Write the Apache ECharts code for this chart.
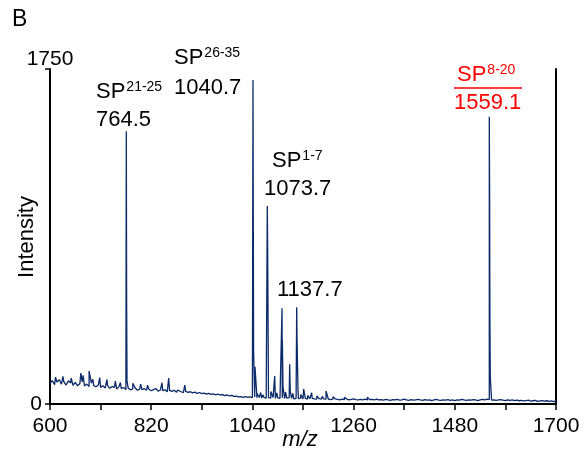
<!DOCTYPE html>
<html>
<head>
<meta charset="utf-8">
<script src="https://cdn.jsdelivr.net/npm/echarts@6/dist/echarts.min.js"></script>
<style>
  html, body { margin: 0; background: #fff; }
  #chart { width: 585px; height: 459px; }
</style>
</head>
<body>
<div id="chart"></div>
<script>
// baseline noise, one value every 5 m/z starting at 600
const MZ_START = 600
const MZ_STEP = 5
const baseline = [
  108, 122, 101, 115, 127, 104, 117, 99, 121, 110, 98, 113, 95, 107, 116, 94, 104, 91, 109, 96, 90,
  99, 87, 95, 84, 97, 82, 92, 86, 78, 91, 80, 86, 76, 83, 74, 79, 85, 72, 78, 75,
  80, 72, 77, 69, 75, 81, 67, 73, 70, 74, 64, 71, 66, 72, 62, 68, 64, 60, 66, 61,
  64, 58, 62, 55, 60, 54, 57, 52, 56, 50, 53, 48, 51, 47, 49, 44, 47, 42, 45, 40,
  41, 37, 39, 35, 38, 34, 37, 33, 36, 32, 35, 31, 34, 30, 33, 31, 34, 29, 32, 30,
  32, 28, 31, 33, 29, 27, 30, 28, 31, 27, 29, 26, 28, 30, 27, 25, 28, 26, 27, 25,
  26, 23, 25, 27, 24, 22, 25, 23, 26, 22, 24, 27, 23, 21, 24, 22, 25, 21, 23, 24,
  22, 25, 21, 23, 20, 24, 22, 19, 23, 21, 24, 20, 22, 25, 21, 19, 23, 20, 22, 24,
  21, 19, 23, 20, 22, 18, 21, 24, 20, 19, 22, 20, 23, 19, 21, 18, 22, 20, 24, 21,
  19, 22, 20, 23, 21, 18, 22, 24, 21, 25, 23, 20, 22, 19, 21, 23, 20, 18, 22, 19,
  21, 18, 20, 17, 19, 16, 18, 20, 15, 17, 19, 14, 16, 18, 15, 17, 14, 16, 13, 15,
]

// peaks (incl. isotope shoulders and small grass spikes)
const peakMz = [
  612, 628, 646, 667, 672, 685, 693, 708, 724, 742, 753,
  765.9, 766.6, 767.4,
  780, 797, 812, 832, 843.5, 858, 877.5, 893, 909,
  1041.3, 1042.0, 1042.6, 1045.6, 1050, 1058, 1063,
  1072.4, 1073.1, 1074.6, 1080, 1088.4, 1093,
  1104.4, 1105.1, 1106.5, 1112, 1121, 1122.2, 1128,
  1136.3, 1137.0, 1139, 1145, 1151.5, 1160, 1168.8, 1180, 1192, 1200,
  1215, 1240, 1290, 1330,
  1555.0, 1555.7, 1556.3, 1557.2,
]
const peakInt = [
  140, 145, 135, 162, 150, 172, 130, 138, 128, 120, 112,
  1425, 529, 120,
  108, 104, 98, 90, 111, 136, 73, 99, 70,
  1693, 909, 280, 195, 55, 60, 48,
  1034, 831, 204, 65, 146, 58,
  500, 334, 90, 62, 207, 70, 55,
  505, 345, 84, 50, 78, 45, 59, 42, 40, 68,
  38, 35, 36, 33,
  1500, 1092, 437, 136,
]

const xMin = 600
const xMax = 1700
const xTickStep = 110
const xLabelStep = 220
const yMax = 1750

const FONT = "'Liberation Sans', Arial, Helvetica, sans-serif"

const points = baseline.map((v, i) => [MZ_START + i * MZ_STEP, v])
peakMz.forEach((m, i) => points.push([m, peakInt[i]]))
points.sort((a, b) => a[0] - b[0])

const chart = echarts.init(document.getElementById('chart'))

const sp = (sup) => `{sp|SP}{sup|${sup}}`
const richSP = {
  sp: { fontSize: 22, fontFamily: FONT, lineHeight: 24 },
  sup: { fontSize: 14, fontFamily: FONT, verticalAlign: 'top', lineHeight: 24, padding: [0, 0, 0, 1] },
}
const txt = (x, y, text, color = '#000', extra = {}) => ({
  type: 'text',
  x, y,
  style: Object.assign({
    text, fill: color, fontSize: 22, fontFamily: FONT,
    verticalAlign: 'middle',
  }, extra),
})
const spTxt = (x, y, sup, color = '#000') => ({
  type: 'text',
  x, y,
  style: {
    text: sp(sup), fill: color, verticalAlign: 'middle',
    rich: {
      sp: Object.assign({ fill: color }, richSP.sp),
      sup: Object.assign({ fill: color }, richSP.sup),
    },
  },
})

chart.setOption({
  animation: false,
  backgroundColor: '#fff',
  grid: { left: 50, right: 29, top: 69, bottom: 55 },
  xAxis: {
    type: 'value',
    min: xMin,
    max: xMax,
    interval: xTickStep,
    axisLine: { lineStyle: { color: '#000', width: 2 } },
    axisTick: { length: 6, lineStyle: { color: '#000', width: 1.5 } },
    axisLabel: {
      color: '#000',
      fontSize: 21,
      fontFamily: FONT,
      margin: 12,
      formatter: (v) => ((v - xMin) % xLabelStep === 0 ? String(v) : ''),
    },
    splitLine: { show: false },
  },
  yAxis: [
    {
      type: 'value',
      min: 0,
      max: yMax,
      interval: yMax,
      axisLine: { show: true, lineStyle: { color: '#000', width: 2 } },
      axisTick: { show: true, length: 5, lineStyle: { color: '#000', width: 1.5 } },
      axisLabel: {
        color: '#000',
        fontSize: 21,
        fontFamily: FONT,
        margin: 8,
        formatter: (v) => (v === 0 ? '0' : ''),
      },
      splitLine: { show: false },
    },
    {
      type: 'value',
      min: 0,
      max: yMax,
      interval: yMax,
      position: 'right',
      axisLine: { show: true, lineStyle: { color: '#000', width: 2 } },
      axisTick: { show: false },
      axisLabel: { show: false },
      splitLine: { show: false },
    },
  ],
  series: [
    {
      type: 'line',
      data: points,
      yAxisIndex: 0,
      symbol: 'none',
      lineStyle: { color: '#0b2a6a', width: 1.3 },
    },
  ],
  graphic: [
    txt(12, 20, 'B', '#000', { fontSize: 23 }),
    txt(50, 59, String(yMax), '#000', { fontSize: 21, align: 'center' }),
    {
      type: 'text',
      x: 27, y: 237,
      rotation: Math.PI / 2,
      style: { text: 'Intensity', fill: '#000', fontSize: 22, fontFamily: FONT, align: 'center', verticalAlign: 'middle' },
    },
    txt(300, 440, 'm/z', '#000', { fontStyle: 'italic', align: 'center' }),
    spTxt(96, 92, '21-25'),
    txt(96, 120, '764.5'),
    spTxt(174, 58, '26-35'),
    txt(174, 88, '1040.7'),
    spTxt(272, 161, '1-7'),
    txt(264, 189, '1073.7'),
    txt(277, 290, '1137.7'),
    spTxt(457, 75, '8-20', '#ff0000'),
    {
      type: 'line',
      shape: { x1: 454, y1: 88, x2: 522, y2: 88 },
      style: { stroke: '#ff0000', lineWidth: 1.5 },
    },
    txt(454, 103, '1559.1', '#ff0000'),
  ],
})
</script>
</body>
</html>
